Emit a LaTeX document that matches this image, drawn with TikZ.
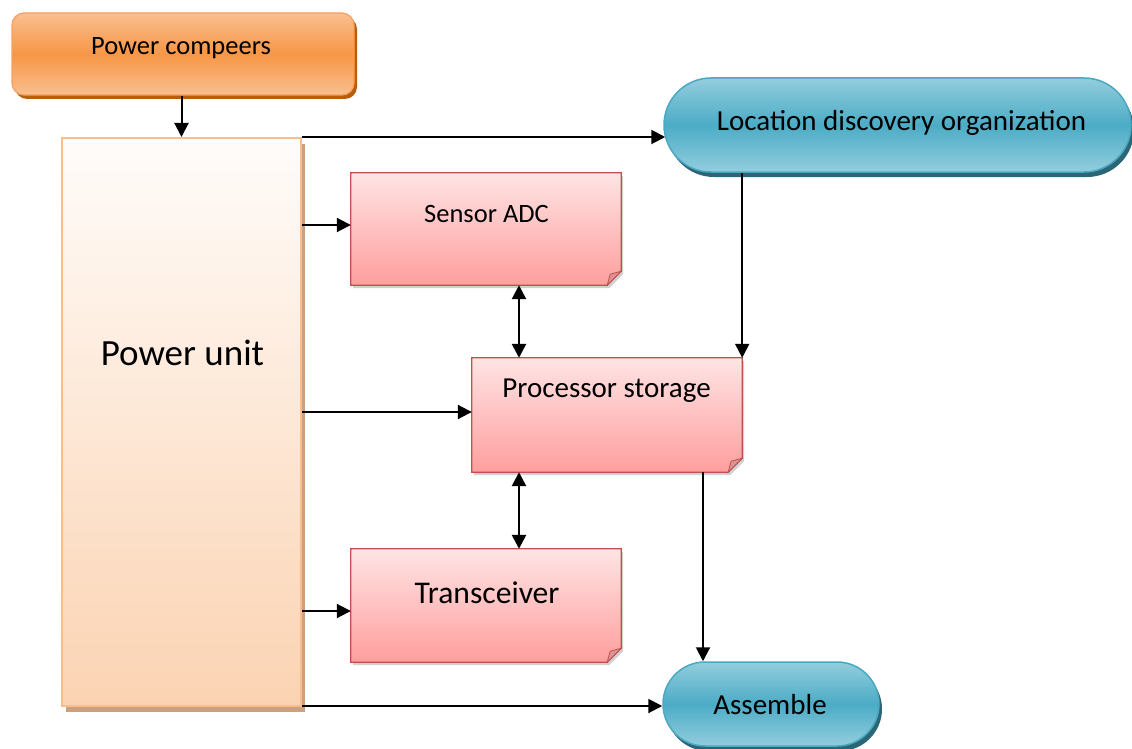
\documentclass[tikz,border=0pt]{standalone}
\usepackage{fontspec}
\setmainfont{Carlito}
\usetikzlibrary{arrows.meta,shadows}
\definecolor{OrLight}{HTML}{FABF8F}
\definecolor{OrMid}{HTML}{F79646}
\definecolor{OrBorder}{HTML}{F4A060}
\definecolor{OrShadow}{HTML}{B6600F}
\definecolor{PuTop}{HTML}{FFFCFA}
\definecolor{PuBot}{HTML}{FBD3B2}
\definecolor{PuBorder}{HTML}{F9BE8C}
\definecolor{PuShadow}{HTML}{CDA07F}
\definecolor{TlLight}{HTML}{93CDDD}
\definecolor{TlMid}{HTML}{4BACC6}
\definecolor{TlBorder}{HTML}{4AA8C2}
\definecolor{TlShadow}{HTML}{2B6676}
\definecolor{PkTop}{HTML}{FFE4E4}
\definecolor{PkBot}{HTML}{FF9E9E}
\definecolor{PkBorder}{HTML}{C0504D}
\definecolor{PkFold}{HTML}{D99594}
\newcommand\foldbox[1]{%
  \draw[pinkfill] (#1.north west) -- (#1.north east) -- ([yshift=14pt]#1.south east)
    -- ([xshift=-14pt]#1.south east) -- (#1.south west) -- cycle;
  \draw[foldst] ([yshift=14pt]#1.south east) -- ([xshift=-14pt]#1.south east)
    -- ([xshift=-11pt,yshift=11pt]#1.south east) -- cycle;}
\begin{document}
\begin{tikzpicture}[x=1pt,y=-1pt,
  arr/.style={line width=2pt,-{Triangle[length=14pt,width=14pt]}},
  darr/.style={line width=2.6pt,{Triangle[length=14pt,width=14pt]}-{Triangle[length=14pt,width=14pt]}},
  orangebox/.style={rectangle,rounded corners=12pt,draw=OrBorder,line width=1.2pt,
    top color=OrLight,bottom color=OrLight,middle color=OrMid,
    drop shadow={shadow xshift=3pt,shadow yshift=-4pt,fill=OrShadow,opacity=1}},
  unitbox/.style={rectangle,draw=PuBorder,line width=2pt,top color=PuTop,bottom color=PuBot,
    drop shadow={shadow xshift=3.5pt,shadow yshift=-6pt,fill=PuShadow,opacity=1}},
  tealbox/.style={rectangle,draw=TlBorder,line width=1.5pt,
    top color=TlLight,bottom color=TlLight,middle color=TlMid,
    drop shadow={shadow xshift=3pt,shadow yshift=-5pt,fill=TlShadow,opacity=1}},
  pinkshape/.style={rectangle,minimum width=270pt,inner sep=0pt},
  pinkfill/.style={draw=PkBorder,line width=1.3pt,top color=PkTop,bottom color=PkBot,
    drop shadow={shadow xshift=2pt,shadow yshift=-3pt,fill=black,opacity=0.18}},
  foldst/.style={draw=PkBorder,line width=0.8pt,fill=PkFold},
  txt/.style={anchor=base,inner sep=0pt,text=black},
  fA/.style={font=\fontsize{26.5}{30}\selectfont},
  fB/.style={font=\fontsize{29}{33}\selectfont},
  fC/.style={font=\fontsize{31.6}{36}\selectfont},
  fD/.style={font=\fontsize{37}{42}\selectfont}]
\useasboundingbox (0,0) rectangle (1132,749);

% shapes
\node[orangebox,minimum width=342pt,minimum height=82pt] (pc) at (183,54) {};
\node[unitbox,minimum width=239pt,minimum height=568pt] (pu) at (181.5,422) {};
\node[tealbox,rounded corners=47pt,minimum width=467pt,minimum height=94pt] (loc) at (897.5,125) {};
\node[tealbox,rounded corners=42pt,minimum width=216pt,minimum height=84pt] (as) at (771,704) {};
\node[pinkshape,minimum height=112pt] (sa) at (486,229) {};
\node[pinkshape,minimum height=114pt] (pr) at (607,415) {};
\node[pinkshape,minimum height=113pt] (tr) at (486,605.5) {};
\foldbox{sa}
\foldbox{pr}
\foldbox{tr}

% texts
\node[txt,fA] (pct) at (181,55) {Power compeers};
\node[txt,fD] (put) at (182.5,365) {Power unit};
\node[txt,fB] (loct) at (901.5,131) {Location discovery organization};
\node[txt,fA] (sat) at (486.5,222) {Sensor ADC};
\node[txt,fB] (prt) at (606.5,397) {Processor storage};
\node[txt,fC] (trt) at (487,603) {Transceiver};
\node[txt,fB] (ast) at (770,714) {Assemble};

% connectors
\draw[arr] (pu.north |- pc.south) -- (pu.north);
\draw[arr] (pu.north east) -- ([xshift=2pt]pu.north east -| loc.west);
\draw[arr] (pu.east |- 0,225) -- (sa.west |- 0,225);
\draw[arr] (pu.east |- 0,412) -- (pr.west |- 0,412);
\draw[arr] (pu.east |- 0,611) -- (tr.west |- 0,611);
\draw[arr] (pu.east |- 0,706) -- (as.west |- 0,706);
\draw[darr] (sa.south -| 519,0) -- (pr.north -| 519,0);
\draw[darr] (pr.south -| 519,0) -- (tr.north -| 519,0);
\draw[arr] (pr.north east |- loc.south) -- (pr.north east);
\draw[arr] (pr.south -| 703,0) -- (as.north -| 703,0);
\end{tikzpicture}
\end{document}
